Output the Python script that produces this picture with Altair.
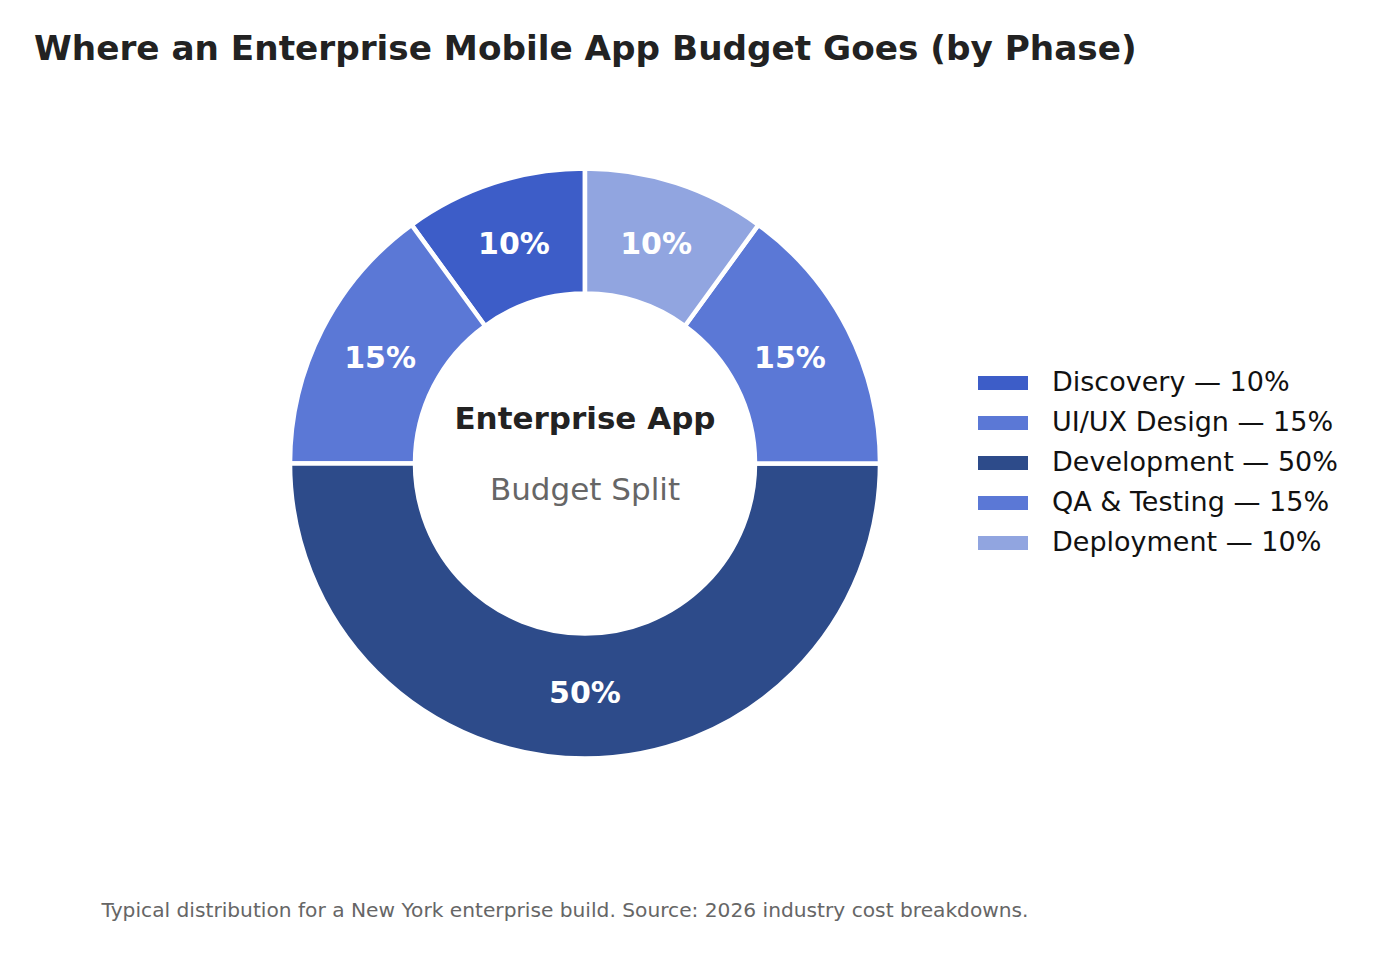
import altair as alt
import pandas as pd

# Budget share per delivery phase (percent of total)
phases = ["Discovery", "UI/UX Design", "Development", "QA & Testing", "Deployment"]
shares = [10, 15, 50, 15, 10]
colors = ["#3d5dc8", "#5b78d6", "#2d4b8a", "#5b78d6", "#91a5e0"]

title_text = "Where an Enterprise Mobile App Budget Goes (by Phase)"
center_title = "Enterprise App"
center_sub = "Budget Split"
footnote = "Typical distribution for a New York enterprise build. Source: 2026 industry cost breakdowns."

FONT = "DejaVu Sans"
CX, CY = 585, 463.5

df = pd.DataFrame({
    "phase": phases,
    "share": shares,
    "idx": list(range(len(phases))),
})
df["legend_label"] = [f"{p} \u2014 {s}%" for p, s in zip(phases, shares)]
df["pct"] = [f"{s}%" for s in shares]

legend_labels = list(df["legend_label"])

base = alt.Chart(df).encode(
    theta=alt.Theta("share:Q", stack=True),
    order=alt.Order("idx:Q", sort="descending"),
    x=alt.value(CX),
    y=alt.value(CY),
)

ring = base.mark_arc(
    radius=295, radius2=170, stroke="white", strokeWidth=4.5
).encode(
    color=alt.Color(
        "legend_label:N",
        sort=legend_labels,
        scale=alt.Scale(domain=legend_labels, range=colors),
        legend=alt.Legend(
            title=None,
            orient="none",
            legendX=978,
            legendY=358,
            symbolType="M-1,-0.28H1V0.28H-1Z",
            symbolSize=2500,
            symbolStrokeWidth=0,
            labelFont=FONT,
            labelFontSize=27,
            labelColor="#111111",
            labelOffset=24,
            rowPadding=2,
            labelLimit=400,
        ),
    )
)

pct_labels = base.mark_text(
    radius=230, font=FONT, fontSize=30, fontWeight="bold",
    color="white", align="center", baseline="middle",
).encode(text="pct:N")

def label(text, x, y, size, weight="normal", color="#222222", align="left"):
    return alt.Chart(pd.DataFrame({"t": [text]})).mark_text(
        font=FONT, fontSize=size, fontWeight=weight, color=color,
        align=align, baseline="alphabetic",
    ).encode(text="t:N", x=alt.value(x), y=alt.value(y))

chart = alt.layer(
    ring,
    pct_labels,
    label(title_text, 34, 60, 34.25, "bold"),
    label(center_title, CX, 429, 31, "bold", align="center"),
    label(center_sub, CX, 500, 31, color="#666666", align="center"),
    label(footnote, 565, 917, 20.2, color="#666666", align="center"),
).properties(
    width=1384, height=954, padding=0,
    autosize=alt.AutoSizeParams(type="none"),
    background="white",
).configure_view(stroke=None)

chart.save("out.html", embed_options={"renderer": "svg", "actions": False})
